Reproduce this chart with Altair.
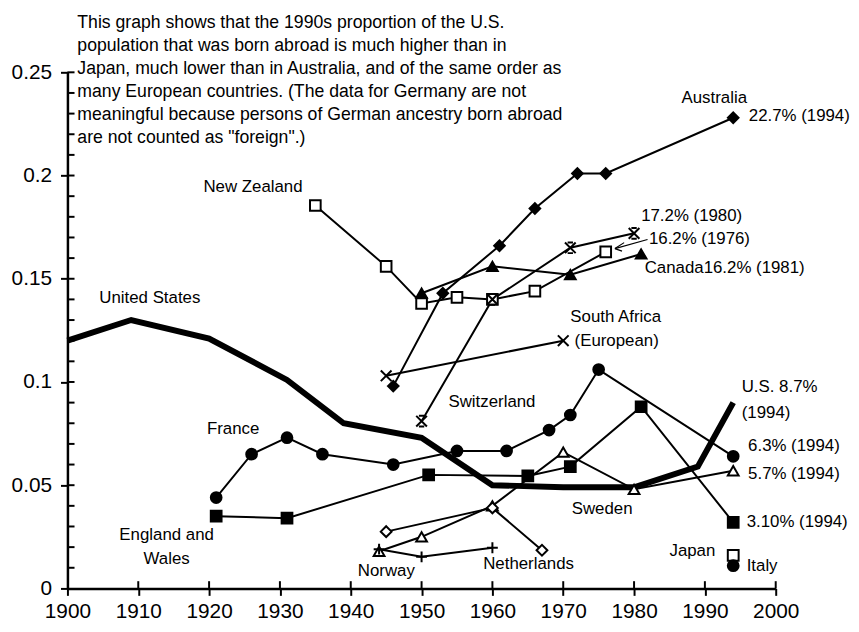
import altair as alt
import pandas as pd

FONT = "Liberation Sans"

# ---------------- data ----------------
us_years = [1900, 1909, 1920, 1931, 1939, 1950, 1960, 1970, 1980, 1989, 1994]
us_vals = [0.120, 0.130, 0.121, 0.101, 0.080, 0.073, 0.050, 0.049, 0.049, 0.059, 0.090]

aus_years = [1946, 1953, 1961, 1966, 1972, 1976, 1994]
aus_vals = [0.098, 0.143, 0.166, 0.184, 0.201, 0.201, 0.228]

nz_years = [1935, 1945, 1950, 1955, 1960, 1966, 1976]
nz_vals = [0.1855, 0.156, 0.138, 0.141, 0.140, 0.144, 0.163]

can_years = [1950, 1960, 1971, 1981]
can_vals = [0.143, 0.156, 0.152, 0.162]

swi_years = [1950, 1960, 1971, 1980]
swi_vals = [0.081, 0.140, 0.165, 0.172]

saf_years = [1945, 1970]
saf_vals = [0.103, 0.120]

fra_years = [1921, 1926, 1931, 1936, 1946, 1955, 1962, 1968, 1971, 1975, 1994]
fra_vals = [0.044, 0.065, 0.073, 0.065, 0.060, 0.0666, 0.0666, 0.0767, 0.084, 0.106, 0.064]

eng_years = [1921, 1931, 1951, 1965, 1971, 1981, 1994]
eng_vals = [0.035, 0.034, 0.055, 0.0545, 0.059, 0.088, 0.032]

swe_years = [1944, 1950, 1960, 1970, 1980, 1994]
swe_vals = [0.018, 0.025, 0.040, 0.066, 0.048, 0.057]

net_years = [1945, 1960, 1967]
net_vals = [0.0275, 0.039, 0.0185]

nor_years = [1944, 1950, 1960]
nor_vals = [0.019, 0.0153, 0.0197]

jap_years = [1994]
jap_vals = [0.016]

ita_years = [1994]
ita_vals = [0.011]

series_names = ["Australia", "New Zealand", "Canada", "Switzerland", "South Africa",
                "France", "England and Wales", "Sweden", "Netherlands", "Norway",
                "Japan", "Italy"]
series_data = [(aus_years, aus_vals), (nz_years, nz_vals), (can_years, can_vals),
               (swi_years, swi_vals), (saf_years, saf_vals), (fra_years, fra_vals),
               (eng_years, eng_vals), (swe_years, swe_vals), (net_years, net_vals),
               (nor_years, nor_vals), (jap_years, jap_vals), (ita_years, ita_vals)]

X_PATH = "M-1,-1L1,1M-1,1L1,-1"
SWISS_PATH = "M-1,-1L1,1M-1,1L1,-1M-0.5,-1L0.5,-1M-0.5,1L0.5,1"
PLUS_PATH = "M-1,0L1,0M0,-1L0,1"
shape_range = ["diamond", "square", "triangle-up", SWISS_PATH, X_PATH, "circle",
               "square", "triangle-up", "diamond", PLUS_PATH, "square", "circle"]
fill_range = ["black", "white", "black", "black", "black", "black", "black",
              "white", "white", "black", "white", "black"]
size_range = [115, 120, 130, 130, 130, 165, 150, 120, 95, 140, 120, 165]

paragraph = [
    "This graph shows that the 1990s proportion of the U.S.",
    "population that was born abroad is much higher than in",
    "Japan, much lower than in Australia, and of the same order as",
    "many European countries. (The data for Germany are not",
    "meaningful because persons of German ancestry born abroad",
    "are not counted as \"foreign\".)",
]
para_x = 1901.4
para_y = [0.2740, 0.2627, 0.2514, 0.2404, 0.2294, 0.2183]

label_text = ["Australia", "22.7% (1994)", "17.2% (1980)", "16.2% (1976)",
              "Canada16.2% (1981)", "New Zealand", "United States", "South Africa",
              "(European)", "Switzerland", "France", "U.S. 8.7%", "(1994)",
              "6.3% (1994)", "5.7% (1994)", "3.10% (1994)", "Sweden", "Japan",
              "Italy", "Netherlands", "Norway"]
label_x = [1986.7, 1996.2, 1981.0, 1982.1, 1981.5, 1919.2, 1904.5, 1971.0,
           1971.6, 1953.8, 1919.7, 1995.2, 1995.2, 1996.1, 1996.1, 1995.9,
           1971.2, 1985.0, 1995.9, 1958.7, 1941.0]
label_y = [0.2375, 0.2289, 0.1804, 0.1694, 0.1550, 0.1943, 0.1406, 0.1315,
           0.1200, 0.0902, 0.0773, 0.0974, 0.0849, 0.0691, 0.0552, 0.0321,
           0.0384, 0.0182, 0.0110, 0.0120, 0.0086]

center_text = ["England and", "Wales"]
center_x = [1914.0, 1914.0]
center_y = [0.0259, 0.0144]

# arrow for the New Zealand 1976 label
arrow_x = [1981.9, 1978.6, 1978.3]
arrow_y = [0.1690, 0.1675, 0.1634]
arrow_tip_x = 1977.3
arrow_tip_y = 0.1646

y_ticks = [0, 0.05, 0.1, 0.15, 0.2, 0.25]
y_minor = [round(0.01 * i, 2) for i in range(1, 26)]
x_ticks = [1900, 1910, 1920, 1930, 1940, 1950, 1960, 1970, 1980, 1990, 2000]

# ---------------- build tables ----------------
rows = []
for name, (ys, vs) in zip(series_names, series_data):
    for y, v in zip(ys, vs):
        rows.append({"series": name, "year": y, "value": v})
df = pd.DataFrame(rows)
us_df = pd.DataFrame({"year": us_years, "value": us_vals})

xs = alt.Scale(domain=[1900, 2000], nice=False, zero=False)
ys_ = alt.Scale(domain=[0, 0.25], nice=False, zero=True)

X = alt.X("year:Q", scale=xs,
          axis=alt.Axis(values=x_ticks, format="d", title=None, labelPadding=5,
                        labelFlush=False, labelOverlap=False))
Y = alt.Y("value:Q", scale=ys_,
          axis=alt.Axis(values=y_ticks, format="~g", title=None, labelPadding=9,
                        labelFlush=False, labelOverlap=False))

us_line = alt.Chart(us_df).mark_line(color="black", strokeWidth=6, strokeJoin="miter").encode(
    x=X, y=Y)

lines = alt.Chart(df).mark_line(color="black", strokeWidth=2).encode(
    x=alt.X("year:Q", scale=xs), y=alt.Y("value:Q", scale=ys_),
    detail="series:N")

points = alt.Chart(df).mark_point(filled=False, stroke="black", strokeWidth=2, opacity=1).encode(
    x=alt.X("year:Q", scale=xs), y=alt.Y("value:Q", scale=ys_),
    shape=alt.Shape("series:N", scale=alt.Scale(domain=series_names, range=shape_range), legend=None),
    fill=alt.Fill("series:N", scale=alt.Scale(domain=series_names, range=fill_range), legend=None),
    size=alt.Size("series:N", scale=alt.Scale(domain=series_names, range=size_range), legend=None),
)

ymin_df = pd.DataFrame({"value": y_minor, "x0": [1900] * len(y_minor), "x1": [1901.0] * len(y_minor)})
ymin = alt.Chart(ymin_df).mark_rule(color="black", strokeWidth=2).encode(
    x=alt.X("x0:Q", scale=xs), x2="x1:Q", y=alt.Y("value:Q", scale=ys_))

xin_df = pd.DataFrame({"year": x_ticks[1:], "y0": [0] * 10, "y1": [0.0035] * 10})
xin = alt.Chart(xin_df).mark_rule(color="black", strokeWidth=2).encode(
    x=alt.X("year:Q", scale=xs), y=alt.Y("y0:Q", scale=ys_), y2="y1:Q")

para_df = pd.DataFrame({"t": paragraph, "x": [para_x] * len(paragraph), "y": para_y})
para = alt.Chart(para_df).mark_text(align="left", baseline="middle", font=FONT,
                                    fontSize=17.8, color="black").encode(
    x=alt.X("x:Q", scale=xs), y=alt.Y("y:Q", scale=ys_), text="t:N")

lab_df = pd.DataFrame({"t": label_text, "x": label_x, "y": label_y})
labels = alt.Chart(lab_df).mark_text(align="left", baseline="middle", font=FONT,
                                     fontSize=17, color="black").encode(
    x=alt.X("x:Q", scale=xs), y=alt.Y("y:Q", scale=ys_), text="t:N")

cen_df = pd.DataFrame({"t": center_text, "x": center_x, "y": center_y})
clabels = alt.Chart(cen_df).mark_text(align="center", baseline="middle", font=FONT,
                                      fontSize=17, color="black").encode(
    x=alt.X("x:Q", scale=xs), y=alt.Y("y:Q", scale=ys_), text="t:N")

arr_df = pd.DataFrame({"x": arrow_x, "y": arrow_y,
                       "tx": [arrow_tip_x] * 3, "ty": [arrow_tip_y] * 3})
arrow = alt.Chart(arr_df).mark_rule(color="black", strokeWidth=1.2).encode(
    x=alt.X("x:Q", scale=xs), y=alt.Y("y:Q", scale=ys_), x2="tx:Q", y2="ty:Q")

chart = alt.layer(us_line, lines, ymin, xin, arrow, points, para, labels, clabels).properties(
    width=715, height=521,
    autosize=alt.AutoSizeParams(type="none"),
    padding={"left": 60, "top": 62, "right": 76, "bottom": 33},
    background="white",
).configure_view(stroke=None).configure_axis(
    grid=False, domainColor="black", domainWidth=2.5, tickColor="black", tickWidth=2,
    tickSize=7, labelFont=FONT, labelFontSize=21, labelColor="black",
)

chart.save("out.html", embed_options={"renderer": "svg", "actions": False})
